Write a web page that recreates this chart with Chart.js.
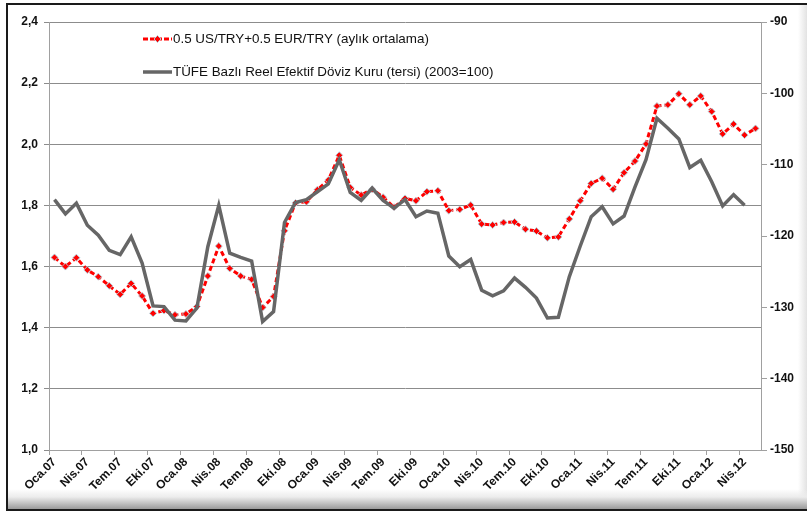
<!DOCTYPE html>
<html>
<head>
<meta charset="utf-8">
<script src="https://cdn.jsdelivr.net/npm/chart.js@4.4.1/dist/chart.umd.min.js"></script>
<style>
  html, body { margin: 0; padding: 0; background: #fff; }
  #wrap { position: relative; width: 807px; height: 512px; overflow: hidden; background: #fff; }
  #frame {
    position: absolute; left: 6px; top: 3px; width: 805px; height: 504px;
    border-top: 2px solid #1a1a1a; border-left: 2px solid #1a1a1a; border-bottom: 2px solid #1a1a1a;
    background:
      linear-gradient(to bottom, rgba(255,255,255,0) 0px, rgba(255,255,255,0) 484px, #ececec 492px, #9a9a9a 504px),
      linear-gradient(to right, rgba(255,255,255,0) 0px, rgba(255,255,255,0) 790px, #e6e6e6 798px, #c8c8c8 805px);
  }
  #c { position: absolute; left: 0; top: 0; }
</style>
</head>
<body>
<div id="wrap">
  <div id="frame"></div>
  <canvas id="c" width="807" height="512"></canvas>
</div>
<script>
// ---- DATA ----
const monthNames = ["Oca","Şub","Mar","Nis","May","Haz","Tem","Ağu","Eyl","Eki","Kas","Ara"];
const years = ["07","08","09","10","11","12"];
const categories = [];
for (const y of years) for (const m of monthNames) categories.push(m + "." + y);
categories.length = 65; // Oca.07 .. May.12

const seriesNames = [
  "0.5 US/TRY+0.5 EUR/TRY (aylık ortalama)",
  "TÜFE Bazlı Reel Efektif Döviz Kuru (tersi) (2003=100)"
];

const basketValues = [
  1.630, 1.600, 1.629, 1.589, 1.567, 1.537, 1.509, 1.545, 1.504, 1.447, 1.456, 1.442,
  1.445, 1.469, 1.569, 1.667, 1.594, 1.569, 1.558, 1.466, 1.502, 1.717, 1.808, 1.812,
  1.851, 1.883, 1.964, 1.859, 1.834, 1.853, 1.827, 1.794, 1.823, 1.815, 1.845, 1.848,
  1.783, 1.787, 1.801, 1.739, 1.736, 1.744, 1.746, 1.722, 1.716, 1.694, 1.697, 1.756,
  1.815, 1.872, 1.889, 1.853, 1.907, 1.945, 2.001, 2.125, 2.129, 2.165, 2.129, 2.158,
  2.107, 2.034, 2.066, 2.030, 2.052
];

const reerInverseValues = [
  -114.9, -116.9, -115.4, -118.5, -119.9, -122.0, -122.6, -120.1, -123.8, -129.8, -129.9, -131.8,
  -131.9, -130.1, -121.5, -115.7, -122.4, -123.0, -123.5, -132.0, -130.6, -118.1, -115.3, -114.9,
  -113.8, -112.7, -109.3, -113.9, -115.0, -113.3, -115.0, -116.1, -114.9, -117.3, -116.5, -116.8,
  -122.8, -124.3, -123.3, -127.6, -128.4, -127.7, -125.9, -127.2, -128.7, -131.5, -131.4, -125.7,
  -121.4, -117.3, -115.9, -118.3, -117.2, -113.1, -109.3, -103.5, -104.9, -106.4, -110.4, -109.4,
  -112.4, -115.8, -114.2, -115.7
];

const leftTicks = { min: 1.0, max: 2.4, step: 0.2 };
const rightTicks = { min: -150, max: -90, step: 10 };
const labelEvery = 3;

// ---- STYLE ----
const RED = "#ff0000";
const GRAY = "#666666";
const FONT = "'Liberation Sans', Arial, sans-serif";

const legendPlugin = {
  id: "insideLegend",
  afterDraw(chart) {
    const ctx = chart.ctx;
    ctx.save();
    ctx.font = "13.4px " + FONT;
    ctx.fillStyle = "#111";
    ctx.textBaseline = "middle";
    // red item
    let y = 39;
    ctx.strokeStyle = RED; ctx.lineWidth = 3; ctx.setLineDash([5, 2]);
    ctx.beginPath(); ctx.moveTo(143, y); ctx.lineTo(172, y); ctx.stroke();
    ctx.setLineDash([]);
    ctx.fillStyle = RED; ctx.strokeStyle = "rgba(175,215,225,0.9)"; ctx.lineWidth = 1;
    ctx.beginPath(); ctx.moveTo(157.5, y - 3.5); ctx.lineTo(161, y); ctx.lineTo(157.5, y + 3.5); ctx.lineTo(154, y); ctx.closePath();
    ctx.fill(); ctx.stroke();
    ctx.fillStyle = "#111";
    ctx.fillText(chart.data.datasets[0].label, 173, y);
    // gray item
    y = 72;
    ctx.strokeStyle = GRAY; ctx.lineWidth = 3.5;
    ctx.beginPath(); ctx.moveTo(143, y); ctx.lineTo(172, y); ctx.stroke();
    ctx.fillText(chart.data.datasets[1].label, 173, y);
    ctx.restore();
  }
};

new Chart(document.getElementById("c"), {
  type: "line",
  data: {
    labels: categories,
    datasets: [
      {
        label: seriesNames[0],
        data: basketValues,
        yAxisID: "yL",
        borderColor: RED,
        borderWidth: 3,
        borderDash: [5, 3],
        backgroundColor: RED,
        pointStyle: "rectRot",
        pointRadius: 3.5,
        pointBorderColor: "rgba(175,215,225,0.9)",
        pointBorderWidth: 1,
        pointBackgroundColor: RED,
        tension: 0,
        order: 2
      },
      {
        label: seriesNames[1],
        data: reerInverseValues,
        yAxisID: "yR",
        borderColor: GRAY,
        borderWidth: 3.5,
        pointRadius: 0,
        tension: 0,
        order: 1
      }
    ]
  },
  options: {
    responsive: false,
    animation: false,
    devicePixelRatio: 1,
    layout: { padding: { left: 8, right: 0, top: 22, bottom: 0 } },
    plugins: { legend: { display: false }, tooltip: { enabled: false } },
    scales: {
      x: {
        type: "category",
        offset: true,
        grid: {
          offset: true,
          drawOnChartArea: false,
          drawTicks: true,
          tickLength: 5,
          color: (c) => (c.index % labelEvery === 0 ? "#a0a0a0" : "rgba(0,0,0,0)")
        },
        border: { display: true, color: "#a0a0a0", width: 1 },
        ticks: {
          autoSkip: false,
          minRotation: 45,
          maxRotation: 45,
          padding: 0,
          color: "#111",
          font: { family: FONT, size: 12, weight: "bold" },
          callback: function (v, i) { return i % labelEvery === 0 ? categories[i] : ""; }
        },
        afterFit: (s) => { s.height = 62; }
      },
      yL: {
        position: "left",
        min: leftTicks.min,
        max: leftTicks.max,
        ticks: {
          stepSize: leftTicks.step,
          color: "#111",
          padding: 6,
          font: { family: FONT, size: 12, weight: "bold" },
          callback: (v) => v.toFixed(1).replace(".", ",")
        },
        grid: { color: "#8c8c8c", tickLength: 5, lineWidth: 1 },
        border: { display: true, color: "#a0a0a0", width: 1 },
        afterFit: (s) => { s.width = 41; }
      },
      yR: {
        position: "right",
        min: rightTicks.min,
        max: rightTicks.max,
        ticks: {
          stepSize: rightTicks.step,
          color: "#111",
          padding: 3,
          font: { family: FONT, size: 12, weight: "bold" },
          callback: (v) => String(v)
        },
        grid: { drawOnChartArea: false, color: "#a0a0a0", tickLength: 6 },
        border: { display: true, color: "#a0a0a0", width: 1 },
        afterFit: (s) => { s.width = 46; }
      }
    }
  },
  plugins: [legendPlugin]
});
</script>
</body>
</html>
